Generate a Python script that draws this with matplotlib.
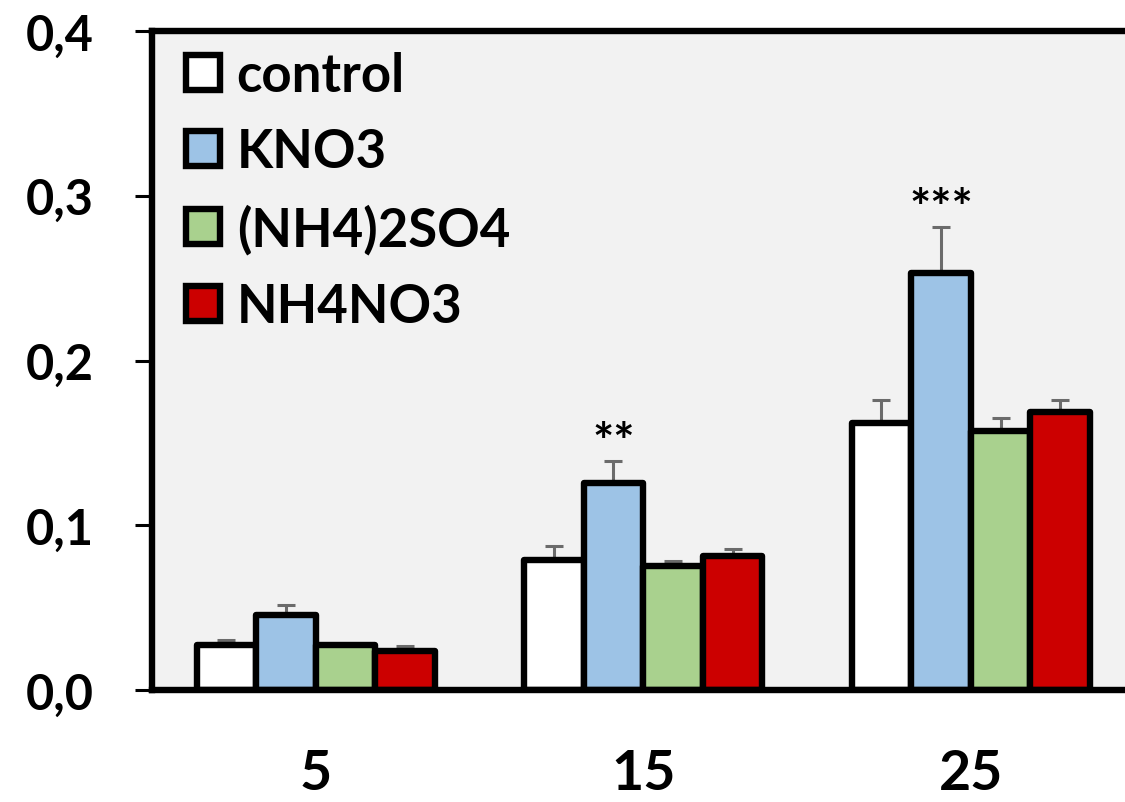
import numpy as np
import matplotlib
matplotlib.use("Agg")
import matplotlib.pyplot as plt

plt.rcParams["font.family"] = ["Lato", "DejaVu Sans"]
plt.rcParams["font.weight"] = "bold"

# concentration groups on the x axis
conc_labels = ["5", "15", "25"]
treatments = ["control", "KNO3", "(NH4)2SO4", "NH4NO3"]

# mean values and standard errors per treatment
control_mean = [0.0275, 0.0792, 0.162]
control_se = [0.003, 0.0084, 0.014]
kno3_mean = [0.0453, 0.1256, 0.253]
kno3_se = [0.006, 0.0137, 0.028]
nh42so4_mean = [0.0276, 0.0755, 0.157]
nh42so4_se = [0.0005, 0.0025, 0.008]
nh4no3_mean = [0.0238, 0.0812, 0.169]
nh4no3_se = [0.003, 0.0045, 0.007]

# significance marks above the KNO3 bars
kno3_signif = ["", "**", "***"]

y_ticks = [0.0, 0.1, 0.2, 0.3, 0.4]
y_tick_labels = ["0,0", "0,1", "0,2", "0,3", "0,4"]

colors = ["#FFFFFF", "#9DC3E6", "#A9D18E", "#CC0000"]
means = [control_mean, kno3_mean, nh42so4_mean, nh4no3_mean]
errors = [control_se, kno3_se, nh42so4_se, nh4no3_se]

fig = plt.figure(figsize=(11.25, 8.03), dpi=100)
ax = fig.add_axes([152 / 1125, 112 / 803, 982.5 / 1125, 659 / 803])
ax.set_facecolor("#F2F2F2")

x = np.arange(len(conc_labels))
width = 0.182
offsets = (np.arange(len(treatments)) - 1.5) * width

for name, vals, errs, col, off in zip(treatments, means, errors, colors, offsets):
    vals = np.asarray(vals)
    errs = np.asarray(errs)
    ax.bar(x + off, vals, width, color=col, edgecolor="black", linewidth=4.6,
           label=name, zorder=3, joinstyle="round")
    # upper half of the error bar only
    ax.errorbar(x + off, vals, yerr=[np.zeros_like(errs), errs], fmt="none",
                ecolor="#6B6B6B", elinewidth=2.2, capsize=6.5, capthick=2.2, zorder=2)

kno3_x = x + offsets[1]
for xi, m, e, s in zip(kno3_x, kno3_mean, kno3_se, kno3_signif):
    if s:
        ax.annotate(s, (xi, m + e), xytext=(0, 2), textcoords="offset points",
                    ha="center", va="baseline", fontsize=36, fontweight="bold")

ax.set_xlim(-0.5, 2.5)
ax.set_ylim(0, 0.4)
ax.set_yticks(y_ticks)
ax.set_yticklabels(y_tick_labels)
ax.set_xticks(x)
ax.set_xticklabels(conc_labels)

ax.tick_params(axis="y", length=12, width=2.2, pad=30, labelsize=35, direction="out")
ax.tick_params(axis="x", length=0, pad=42, labelsize=40)

for side in ["left", "top", "bottom", "right"]:
    ax.spines[side].set_linewidth(4.6)
    ax.spines[side].set_color("black")
    ax.spines[side].set_zorder(4)

leg = ax.legend(loc="upper left", bbox_to_anchor=(34 / 982.5, 0.97), frameon=False,
                fontsize=38, handlelength=0.64, handleheight=0.64, handletextpad=0.32,
                labelspacing=0.52, borderpad=0, borderaxespad=0)

fig.savefig("out.png", dpi=100)
